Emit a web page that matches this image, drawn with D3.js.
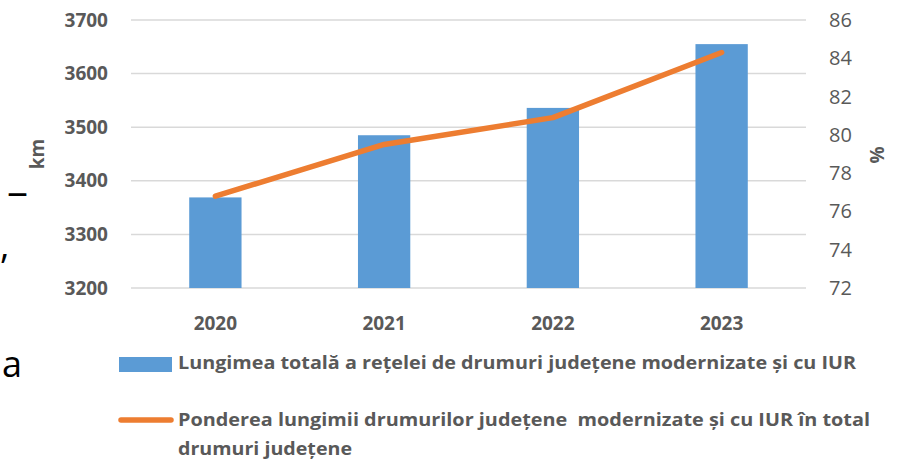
<!DOCTYPE html>
<html>
<head>
<meta charset="utf-8">
<script src="https://cdn.jsdelivr.net/npm/d3@7"></script>
<style>
  html, body { margin: 0; padding: 0; background: #fff; }
  svg { display: block; font-family: "Open Sans", sans-serif; }
</style>
</head>
<body>
<svg id="chart" width="902" height="461"></svg>
<script>
const years = ["2020", "2021", "2022", "2023"];
const lungime = [3369, 3485, 3536, 3655];        // km
const pondere = [76.8, 79.5, 80.9, 84.3];        // %
const leftTicks = [3200, 3300, 3400, 3500, 3600, 3700];
const rightTicks = [72, 74, 76, 78, 80, 82, 84, 86];
const legendBar = "Lungimea totală a rețelei de drumuri județene modernizate și cu IUR";
const legendLine1 = "Ponderea lungimii drumurilor județene  modernizate și cu IUR în total";
const legendLine2 = "drumuri județene";

const svg = d3.select("#chart");
const plotLeft = 131, plotRight = 806, plotTop = 20, plotBottom = 288;

const x = d3.scaleBand()
    .domain(years)
    .range([plotLeft, plotRight])
    .paddingInner(0.69)
    .paddingOuter(0.345);

const yL = d3.scaleLinear().domain([3200, 3700]).range([plotBottom, plotTop]);
const yR = d3.scaleLinear().domain([72, 86]).range([plotBottom, plotTop]);

// bits of the document text showing at the left edge
const stray = svg.append("g").attr("fill", "#000").attr("font-size", 36);
stray.append("text").attr("x", 7).attr("y", 205)
    .attr("textLength", 21).attr("lengthAdjust", "spacingAndGlyphs").text("–");
stray.append("text").attr("x", 0).attr("y", 258).text(",");
stray.append("text").attr("x", 2).attr("y", 377).text("a");

// gridlines
svg.append("g")
    .selectAll("line")
    .data(leftTicks)
    .join("line")
    .attr("x1", plotLeft).attr("x2", plotRight)
    .attr("y1", d => yL(d)).attr("y2", d => yL(d))
    .attr("stroke", "#d9d9d9")
    .attr("stroke-width", 1.5);

// bars
svg.append("g")
    .selectAll("rect")
    .data(years)
    .join("rect")
    .attr("x", d => x(d))
    .attr("width", x.bandwidth())
    .attr("y", (d, i) => yL(lungime[i]))
    .attr("height", (d, i) => yL(3200) - yL(lungime[i]))
    .attr("fill", "#5b9bd5");

// line
const line = d3.line()
    .x((d, i) => x(years[i]) + x.bandwidth() / 2)
    .y(d => yR(d));

svg.append("path")
    .datum(pondere)
    .attr("d", line)
    .attr("fill", "none")
    .attr("stroke", "#ed7d31")
    .attr("stroke-width", 5.5)
    .attr("stroke-linecap", "round")
    .attr("stroke-linejoin", "round");

// left axis labels
svg.append("g")
    .selectAll("text")
    .data(leftTicks)
    .join("text")
    .attr("x", 108)
    .attr("y", d => yL(d))
    .attr("dy", "0.35em")
    .attr("text-anchor", "end")
    .attr("font-size", 19)
    .attr("font-weight", "bold")
    .attr("fill", "#595959")
    .text(d => d);

// right axis labels
svg.append("g")
    .selectAll("text")
    .data(rightTicks)
    .join("text")
    .attr("x", 829)
    .attr("y", d => yR(d))
    .attr("dy", "0.35em")
    .attr("font-size", 20)
    .attr("fill", "#595959")
    .text(d => d);

// category labels
svg.append("g")
    .selectAll("text")
    .data(years)
    .join("text")
    .attr("x", d => x(d) + x.bandwidth() / 2)
    .attr("y", 330)
    .attr("text-anchor", "middle")
    .attr("font-size", 19)
    .attr("font-weight", "bold")
    .attr("fill", "#595959")
    .text(d => d);

// axis titles
svg.append("text")
    .attr("transform", "translate(44,154) rotate(-90)")
    .attr("text-anchor", "middle")
    .attr("font-size", 19)
    .attr("font-weight", "bold")
    .attr("fill", "#595959")
    .text("km");

svg.append("text")
    .attr("transform", "translate(884,155) rotate(-90)")
    .attr("text-anchor", "middle")
    .attr("font-size", 19)
    .attr("font-weight", "bold")
    .attr("fill", "#595959")
    .text("%");

// legend
const legend = svg.append("g").attr("font-size", 17).attr("font-weight", "bold").attr("fill", "#595959");
legend.append("rect")
    .attr("x", 119).attr("y", 357).attr("width", 53).attr("height", 15)
    .attr("fill", "#5b9bd5");
legend.append("text")
    .attr("x", 178).attr("y", 369)
    .attr("textLength", 678).attr("lengthAdjust", "spacingAndGlyphs")
    .text(legendBar);

legend.append("line")
    .attr("x1", 121).attr("x2", 171).attr("y1", 420).attr("y2", 420)
    .attr("stroke", "#ed7d31").attr("stroke-width", 5.5).attr("stroke-linecap", "round");
legend.append("text")
    .attr("x", 178).attr("y", 426)
    .style("white-space", "pre")
    .attr("textLength", 692).attr("lengthAdjust", "spacingAndGlyphs")
    .text(legendLine1);
legend.append("text")
    .attr("x", 178).attr("y", 455)
    .attr("textLength", 174).attr("lengthAdjust", "spacingAndGlyphs")
    .text(legendLine2);
</script>
</body>
</html>
